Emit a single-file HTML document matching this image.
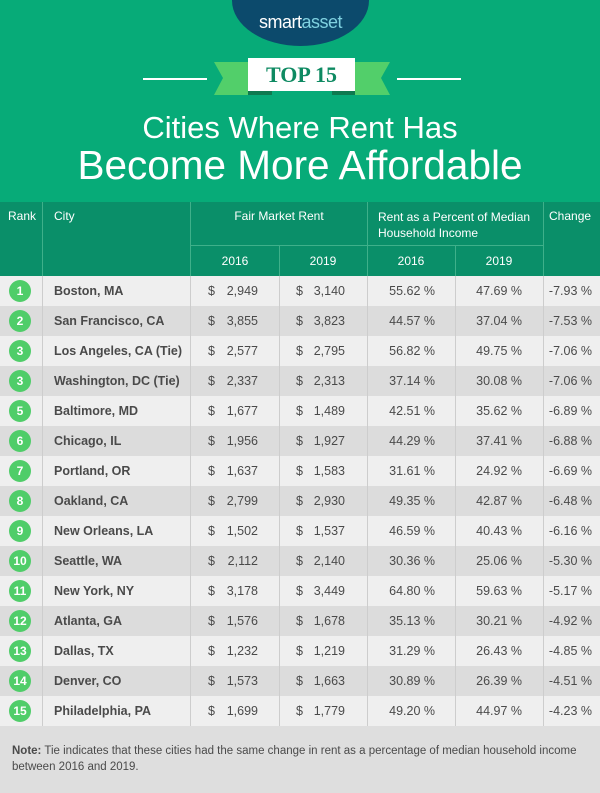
<!DOCTYPE html>
<html><head><meta charset="utf-8"><style>
*{margin:0;padding:0;box-sizing:border-box}
body{width:600px;height:793px;position:relative;overflow:hidden;background:#dedede;font-family:"Liberation Sans",sans-serif;color:#4a4a4a}
.a{position:absolute}
.hdr{background:#0a8f69;color:#fff;font-size:12px}
.row{position:absolute;left:0;width:600px;height:30px;font-size:12.5px}
.row div{position:absolute;top:0;line-height:30px;white-space:nowrap}
</style></head><body>
<div class="a" style="left:0;top:0;width:600px;height:202px;background:#07ab78"></div>
<div class="a" style="left:232px;top:-45px;width:137px;height:91px;border-radius:50%;background:#0c4a6c"></div>
<div class="a" style="left:232px;top:12px;width:137px;text-align:center;color:#fff;font-size:18px;letter-spacing:-0.5px">smart<span style="color:#7fd1e0">asset</span></div>
<div class="a" style="left:143px;top:78px;width:64px;height:2px;background:#fff"></div>
<div class="a" style="left:397px;top:78px;width:64px;height:2px;background:#fff"></div>
<svg class="a" style="left:0;top:0" width="600" height="100">
<polygon points="214,62 262,62 262,95 214,95 223,78" fill="#52cf6a"/>
<polygon points="340,62 390,62 381,78 390,95 340,95" fill="#52cf6a"/>
<polygon points="248,91 272,91 272,95 248,95" fill="#0e7a50"/>
<polygon points="332,91 355,91 355,95 332,95" fill="#0e7a50"/>
</svg>
<div class="a" style="left:248px;top:58px;width:107px;height:33px;background:#fff;color:#0e8a62;font-family:'Liberation Serif',serif;font-weight:bold;font-size:22px;text-align:center;line-height:33px">TOP 15</div>
<div class="a" style="left:0;top:108px;width:600px;text-align:center;color:#fff;font-size:31px;line-height:40px">Cities Where Rent Has</div>
<div class="a" style="left:0;top:141px;width:600px;text-align:center;color:#fff;font-size:40.5px;line-height:48px">Become More Affordable</div>
<div class="a hdr" style="left:0;top:202px;width:600px;height:74px"></div>
<div class="a" style="left:191px;top:245px;width:352px;height:1px;background:#3fb08a"></div>
<div class="a" style="left:42px;top:202px;width:1px;height:74px;background:#3fb08a"></div>
<div class="a" style="left:190px;top:202px;width:1px;height:74px;background:#3fb08a"></div>
<div class="a" style="left:279px;top:246px;width:1px;height:30px;background:#3fb08a"></div>
<div class="a" style="left:367px;top:202px;width:1px;height:74px;background:#3fb08a"></div>
<div class="a" style="left:455px;top:246px;width:1px;height:30px;background:#3fb08a"></div>
<div class="a" style="left:543px;top:202px;width:1px;height:74px;background:#3fb08a"></div>
<div class="a" style="color:#fff;font-size:12px;left:8px;top:209px">Rank</div>
<div class="a" style="color:#fff;font-size:12px;left:54px;top:209px">City</div>
<div class="a" style="color:#fff;font-size:12px;left:191px;width:176px;text-align:center;top:209px">Fair Market Rent</div>
<div class="a" style="color:#fff;font-size:12px;left:378px;top:209px;line-height:16px">Rent as a Percent of Median<br>Household Income</div>
<div class="a" style="color:#fff;font-size:12px;left:549px;top:209px">Change</div>
<div class="a" style="color:#fff;font-size:12px;left:191px;width:88px;text-align:center;top:254px">2016</div>
<div class="a" style="color:#fff;font-size:12px;left:279px;width:88px;text-align:center;top:254px">2019</div>
<div class="a" style="color:#fff;font-size:12px;left:367px;width:88px;text-align:center;top:254px">2016</div>
<div class="a" style="color:#fff;font-size:12px;left:455px;width:88px;text-align:center;top:254px">2019</div>
<div id="rows"></div>
<script>
var d=[[1,"Boston, MA","2,949","3,140","55.62","47.69","-7.93"],[2,"San Francisco, CA","3,855","3,823","44.57","37.04","-7.53"],[3,"Los Angeles, CA (Tie)","2,577","2,795","56.82","49.75","-7.06"],[3,"Washington, DC (Tie)","2,337","2,313","37.14","30.08","-7.06"],[5,"Baltimore, MD","1,677","1,489","42.51","35.62","-6.89"],[6,"Chicago, IL","1,956","1,927","44.29","37.41","-6.88"],[7,"Portland, OR","1,637","1,583","31.61","24.92","-6.69"],[8,"Oakland, CA","2,799","2,930","49.35","42.87","-6.48"],[9,"New Orleans, LA","1,502","1,537","46.59","40.43","-6.16"],[10,"Seattle, WA","2,112","2,140","30.36","25.06","-5.30"],[11,"New York, NY","3,178","3,449","64.80","59.63","-5.17"],[12,"Atlanta, GA","1,576","1,678","35.13","30.21","-4.92"],[13,"Dallas, TX","1,232","1,219","31.29","26.43","-4.85"],[14,"Denver, CO","1,573","1,663","30.89","26.39","-4.51"],[15,"Philadelphia, PA","1,699","1,779","49.20","44.97","-4.23"]];
var h="";d.forEach(function(r,i){var y=276+i*30;h+='<div class="row" style="top:'+y+'px;background:'+(i%2?'#dcdcdc':'#efefef')+'">'+
'<div style="left:9px;top:4px;width:22px;height:22px;border-radius:50%;background:#4fcd69;color:#fff;font-weight:bold;font-size:12px;line-height:22px;text-align:center">'+r[0]+'</div>'+
'<div style="left:54px;font-weight:bold">'+r[1]+'</div>'+
'<div style="left:208px">$</div><div style="right:342px">'+r[2]+'</div>'+
'<div style="left:296px">$</div><div style="right:255px">'+r[3]+'</div>'+
'<div style="right:165px">'+r[4]+' %</div><div style="right:78px">'+r[5]+' %</div><div style="right:8px">'+r[6]+' %</div></div>';});
[42,190,279,367,455,543].forEach(function(x){h+='<div class="a" style="left:'+x+'px;top:276px;width:1px;height:450px;background:#cdcdcd"></div>';});
document.getElementById("rows").innerHTML=h;
</script>
<div class="a" style="left:12px;top:743px;width:585px;font-size:11.5px;line-height:16px;color:#4a4a4a"><b>Note:</b> Tie indicates that these cities had the same change in rent as a percentage of median household income between 2016 and 2019.</div>
</body></html>
